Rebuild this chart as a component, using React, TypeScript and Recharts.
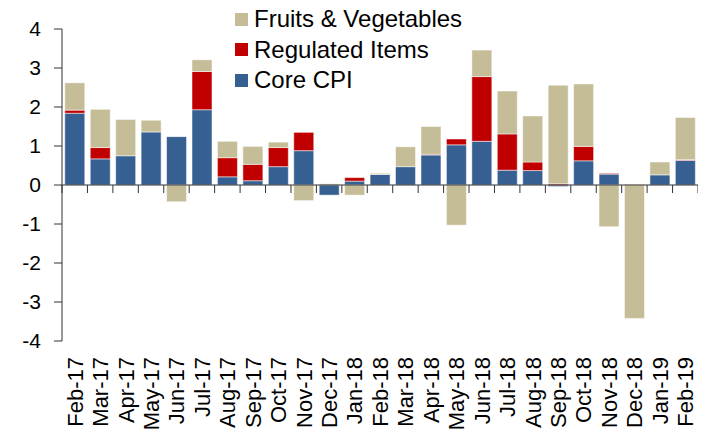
import React from "react";
import { Bar, BarChart, Legend, ReferenceLine, XAxis, YAxis } from "recharts";

const months = [
  "Feb-17", "Mar-17", "Apr-17", "May-17", "Jun-17", "Jul-17", "Aug-17", "Sep-17", "Oct-17",
  "Nov-17", "Dec-17", "Jan-18", "Feb-18", "Mar-18", "Apr-18", "May-18", "Jun-18", "Jul-18",
  "Aug-18", "Sep-18", "Oct-18", "Nov-18", "Dec-18", "Jan-19", "Feb-19",
];
const coreCpi = [
  1.84, 0.67, 0.75, 1.36, 1.24, 1.93, 0.21, 0.11, 0.47, 0.88, -0.26, 0.1, 0.27, 0.47, 0.77,
  1.03, 1.12, 0.38, 0.37, -0.04, 0.62, 0.28, 0.0, 0.26, 0.63,
];
const regulated = [
  0.08, 0.29, 0, 0, 0, 0.98, 0.49, 0.42, 0.49, 0.47, 0, 0.09, 0, 0, 0.02, 0.15, 1.66, 0.93,
  0.22, 0.03, 0.37, 0.02, 0.01, 0, 0.02,
];
const fruitsVeg = [
  0.7, 0.98, 0.93, 0.3, -0.43, 0.3, 0.42, 0.46, 0.14, -0.4, 0.03, -0.26, 0.03, 0.51, 0.71,
  -1.03, 0.68, 1.1, 1.18, 2.53, 1.6, -1.07, -3.42, 0.33, 1.08,
];
const yTicks = [-4, -3, -2, -1, 0, 1, 2, 3, 4];

const data = months.map((m, i) => ({
  month: m,
  core: coreCpi[i],
  regulated: regulated[i],
  fruits: fruitsVeg[i],
}));

const FONT = '"Liberation Sans", Arial, sans-serif';
const BLUE = "#366092";
const RED = "#C00000";
const TAN = "#C4BD97";

const WIDTH = 698;
const HEIGHT = 424;
const MARGIN = { top: 21, right: 8, bottom: 0, left: 0 };
const Y_AXIS_W = 54;
const X_AXIS_H = 91;
const PLOT_H = HEIGHT - MARGIN.top - MARGIN.bottom - X_AXIS_H;
const PLOT_W = WIDTH - MARGIN.left - MARGIN.right - Y_AXIS_W;
const ZERO_Y = MARGIN.top + PLOT_H / 2;
const BAND = PLOT_W / months.length;

const legendItems = [
  { label: "Fruits & Vegetables", color: TAN },
  { label: "Regulated Items", color: RED },
  { label: "Core CPI", color: BLUE },
];

function LegendBox() {
  return (
    <div style={{ fontFamily: FONT, fontSize: 24, color: "#000" }}>
      {legendItems.map((it) => (
        <div key={it.label} style={{ display: "flex", alignItems: "center", height: 30.5 }}>
          <span style={{ width: 13, height: 13, background: it.color, marginRight: 6 }} />
          <span>{it.label}</span>
        </div>
      ))}
    </div>
  );
}

function MonthTick(props: any) {
  const { x, payload, index } = props;
  const labelY = MARGIN.top + PLOT_H + 16;
  return (
    <g>
      <line x1={x - BAND / 2} x2={x - BAND / 2} y1={ZERO_Y} y2={ZERO_Y + 8} stroke="#333" />
      {index === months.length - 1 && (
        <line x1={x + BAND / 2} x2={x + BAND / 2} y1={ZERO_Y} y2={ZERO_Y + 8} stroke="#333" />
      )}
      <text
        x={x}
        y={labelY}
        dy="0.36em"
        transform={`rotate(-90, ${x}, ${labelY})`}
        textAnchor="end"
        fontSize={22}
        fontFamily={FONT}
        fill="#000"
      >
        {payload.value}
      </text>
    </g>
  );
}

export default function App() {
  return (
    <BarChart
      width={WIDTH}
      height={HEIGHT}
      data={data}
      margin={MARGIN}
      stackOffset="sign"
      barCategoryGap="11%"
    >
      <XAxis
        dataKey="month"
        interval={0}
        height={X_AXIS_H}
        axisLine={false}
        tickLine={false}
        tick={<MonthTick />}
      />
      <YAxis
        width={Y_AXIS_W}
        domain={[-4, 4]}
        ticks={yTicks}
        interval={0}
        tickSize={8}
        tickMargin={13}
        axisLine={{ stroke: "#333" }}
        tickLine={{ stroke: "#333" }}
        tick={{ fontSize: 21, fontFamily: FONT, fill: "#000" }}
      />
      <Legend
        layout="vertical"
        align="center"
        verticalAlign="middle"
        content={<LegendBox />}
        wrapperStyle={{ top: -4, left: 227, width: 270 }}
      />
      <Bar dataKey="core" stackId="a" fill={BLUE} stroke="#ffffff" strokeOpacity={0.5} isAnimationActive={false} />
      <Bar dataKey="regulated" stackId="a" fill={RED} stroke="#ffffff" strokeOpacity={0.5} isAnimationActive={false} />
      <Bar dataKey="fruits" stackId="a" fill={TAN} stroke="#ffffff" strokeOpacity={0.5} isAnimationActive={false} />
      <ReferenceLine y={0} stroke="#333" />
    </BarChart>
  );
}
